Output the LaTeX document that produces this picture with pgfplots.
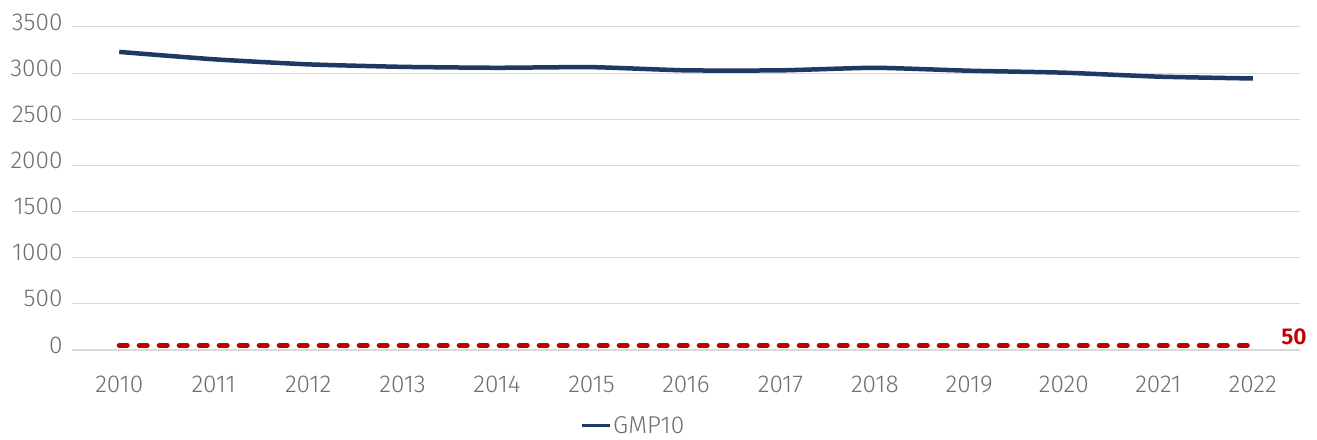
\documentclass[border=0pt]{standalone}
\usepackage{pgfplots}
\pgfplotsset{compat=1.18}
\usepackage{fontspec}
\setmainfont{Fira Sans}[UprightFont={* Light}, BoldFont={* SemiBold}]
\definecolor{navy}{HTML}{1F3864}
\definecolor{dred}{HTML}{C00000}
\definecolor{gridc}{HTML}{D9D9D9}
\definecolor{txt}{HTML}{6E6E6E}
\begin{document}
\begin{tikzpicture}[x=1bp,y=1bp]
\path[use as bounding box] (-72,-90) rectangle (1245,350);
\begin{axis}[
  at={(0,0)}, anchor=south west,
  scale only axis=true,
  width=1228bp, height=323bp,
  xmin=2009.5, xmax=2022.5,
  ymin=0, ymax=3500,
  xtick={2010,...,2022},
  ytick={0,500,...,3500},
  axis x line*=bottom, axis y line*=left,
  x axis line style={draw=gridc, line width=1.5bp},
  y axis line style={draw=none},
  ymajorgrids=true,
  grid style={draw=gridc, line width=1bp},
  major tick length=0pt,
  tick label style={font=\fontsize{24.5}{27}\selectfont, text=txt},
  /pgf/number format/assume math mode=true,
  /pgf/number format/set thousands separator={},
  xticklabel style={yshift=-22bp},
  yticklabel style={xshift=-6bp, yshift=5bp},
  clip=false,
  legend style={at={(0.457,-0.195)}, anchor=north, draw=none, fill=none,
    font=\fontsize{24.5}{27}\selectfont, text=txt, inner sep=1bp},
  legend image code/.code={\draw[#1, line width=3bp] (0bp,0bp) -- (28bp,0bp);},
]
\addplot[navy, line width=4.5bp, smooth, tension=0.3] coordinates {
(2010,3230) (2011,3150) (2012,3095) (2013,3068) (2014,3058) (2015,3065)
(2016,3030) (2017,3030) (2018,3058) (2019,3026) (2020,3005) (2021,2962) (2022,2942)
};
\addlegendentry{GMP10}
\addplot[dred, line width=5bp, line cap=round, dash pattern=on 8bp off 12bp, forget plot] coordinates {
(2010,50) (2022,50)
};
\node[anchor=west, text=dred, font=\fontsize{23}{26}\selectfont\bfseries, inner sep=0pt] at (axis cs:2022.3,140) {50};
\end{axis}
\end{tikzpicture}
\end{document}
